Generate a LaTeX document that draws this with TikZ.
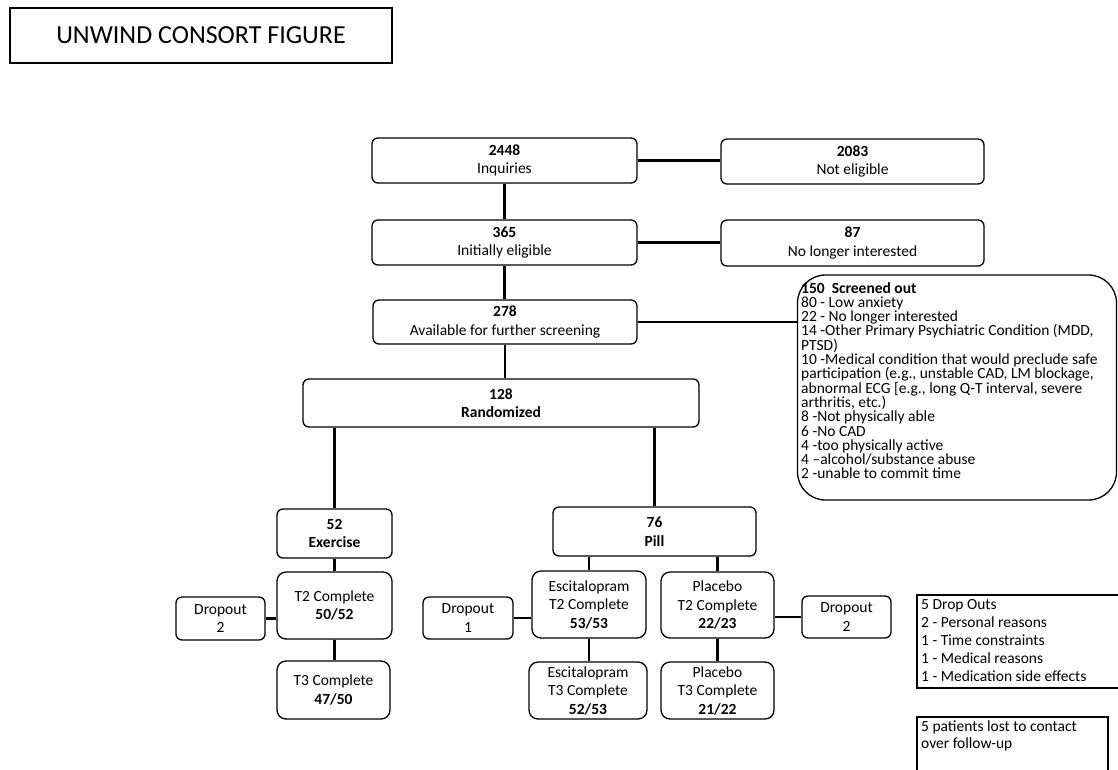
\documentclass[tikz,border=0pt]{standalone}
\usepackage{fontspec}
\setmainfont{Carlito}
\begin{document}
\begin{tikzpicture}[x=1pt,y=-1pt,
  box/.style={draw=black, line width=1.3pt, rounded corners=6pt, align=center, inner sep=0pt, font=\fontsize{15.5}{18.5}\selectfont, execute at begin node={\rule{0pt}{15pt}}},
  conn/.style={draw=black, line width=2.2pt},
  plain/.style={draw=black, line width=1.2pt, inner sep=0pt},
  txt/.style={inner sep=0pt, align=left, anchor=north west}]
\useasboundingbox (0,0) rectangle (1118,769);
\fill[white] (0,0) rectangle (1118,769);
\clip (0,0) rectangle (1118,769);

\node[plain, minimum width=382pt, minimum height=55pt, font=\fontsize{26}{30}\selectfont] (title) at (201,35.5) {UNWIND CONSORT FIGURE};

% main column
\node[box, minimum width=265pt, minimum height=45pt] (n2448) at (504.5,160.5) {\textbf{2448}\\Inquiries};
\node[box, minimum width=263pt, minimum height=45pt] (n2083) at (852.5,161.5) {\textbf{2083}\\Not eligible};
\node[box, minimum width=265pt, minimum height=45pt] (n365) at (504.5,242.5) {\textbf{365}\\Initially eligible};
\node[box, minimum width=263pt, minimum height=46pt] (n87) at (852.5,243) {\textbf{87}\\No longer interested};
\node[box, minimum width=264pt, minimum height=44pt] (n278) at (505,322) {\textbf{278}\\Available for further screening};
\node[box, minimum width=396pt, minimum height=48pt] (n128) at (501,403) {\textbf{128}\\\textbf{Randomized}};

% arms
\node[box, minimum width=115pt, minimum height=49pt] (nEx) at (334.5,533.5) {\textbf{52}\\\textbf{Exercise}};
\node[box, minimum width=203pt, minimum height=49pt] (nPill) at (654.5,531.5) {\textbf{76}\\\textbf{Pill}};

\node[box, rounded corners=9pt, minimum width=115pt, minimum height=67pt] (nExT2) at (334.5,605.5) {T2 Complete\\\textbf{50/52}};
\node[box, minimum width=89pt, minimum height=43pt] (nExD) at (220.5,618.5) {Dropout\\2};
\node[box, rounded corners=9pt, minimum width=113pt, minimum height=58pt] (nExT3) at (333.5,690) {T3 Complete\\\textbf{47/50}};

\node[box, rounded corners=9pt, minimum width=114pt, minimum height=67pt] (nEsT2) at (589,604.5) {Escitalopram\\T2 Complete\\\textbf{53/53}};
\node[box, minimum width=90pt, minimum height=42pt] (nEsD) at (468,618) {Dropout\\1};
\node[box, rounded corners=9pt, minimum width=118pt, minimum height=57pt] (nEsT3) at (588,690.5) {Escitalopram\\T3 Complete\\\textbf{52/53}};

\node[box, rounded corners=9pt, minimum width=113pt, minimum height=66pt] (nPlT2) at (717.5,605) {Placebo\\T2 Complete\\\textbf{22/23}};
\node[box, minimum width=89pt, minimum height=42pt] (nPlD) at (846.5,617) {Dropout\\2};
\node[box, rounded corners=9pt, minimum width=113pt, minimum height=57pt] (nPlT3) at (717.5,690.5) {Placebo\\T3 Complete\\\textbf{21/22}};

% screened out
\node[box, rounded corners=28pt, minimum width=319pt, minimum height=225pt] (scr) at (957,387.5) {};
\node[txt, font={\fontsize{15.5}{14.3}\selectfont\lineskiplimit=-20pt}] (scrtxt) at (801,282) {\textbf{150\ \ Screened out}\\
80 - Low anxiety\\
22 - No longer interested\\
14 -Other Primary Psychiatric Condition (MDD,\\
PTSD)\\
10 -Medical condition that would preclude safe\\
participation (e.g., unstable CAD, LM blockage,\\
abnormal ECG [e.g., long Q-T interval, severe\\
arthritis, etc.)\\
8 -Not physically able\\
6 -No CAD\\
4 -too physically active\\
4 --alcohol/substance abuse\\
2 -unable to commit time};

% side notes
\node[plain, minimum width=213pt, minimum height=93pt] (dro) at (1023.5,641.5) {};
\node[txt, font={\fontsize{15.5}{18}\selectfont\lineskiplimit=-20pt}] (drotxt) at (921,599) {5 Drop Outs\\
2 - Personal reasons\\
1 - Time constraints\\
1 - Medical reasons\\
1 - Medication side effects};
\node[plain, minimum width=191pt, minimum height=70pt] (lost) at (1012.5,752) {};
\node[txt, font={\fontsize{15.5}{17}\selectfont\lineskiplimit=-20pt}] (losttxt) at (921,721) {5 patients lost to contact\\
over follow-up};

% connectors
\draw[conn] (n2448.south) -- (n365.north);
\draw[conn] (n2448.east) -- (n2448.east -| n2083.west);
\draw[conn] (n365.east) -- (n365.east -| n87.west);
\draw[conn] (n365.south) -- (n365.south |- n278.north);
\draw[conn] (n278.east) -- (n278.east -| scr.west);
\draw[conn] (n278.south) -- (n278.south |- n128.north);
\draw[conn] (nEx.north) -- (nEx.north |- n128.south);
\draw[conn] (nPill.north) -- (nPill.north |- n128.south);
\draw[conn] (nEx.south) -- (nExT2.north);
\draw[conn] (nExT2.south) -- (nExT2.south |- nExT3.north);
\draw[conn] (nExD.east) -- (nExD.east -| nExT2.west);
\draw[conn] (nEsT2.north) -- (nEsT2.north |- nPill.south);
\draw[conn] (nPlT2.north) -- (nPlT2.north |- nPill.south);
\draw[conn] (nEsT2.south) -- (nEsT2.south |- nEsT3.north);
\draw[conn] (nPlT2.south) -- (nPlT2.south |- nPlT3.north);
\draw[conn] (nEsD.east) -- (nEsD.east -| nEsT2.west);
\draw[conn] (nPlD.west) -- (nPlD.west -| nPlT2.east);
\end{tikzpicture}
\end{document}
